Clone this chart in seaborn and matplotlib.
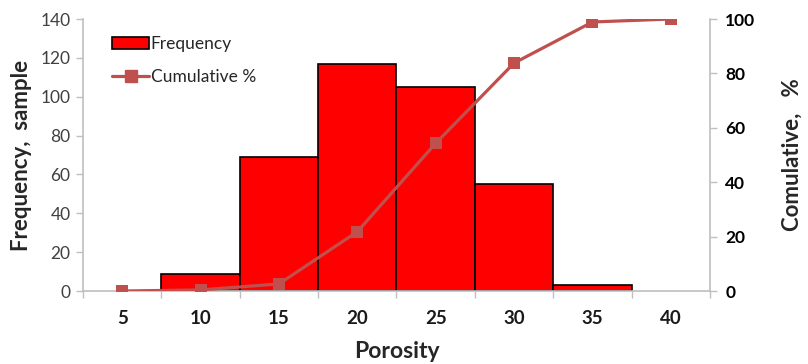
import matplotlib
matplotlib.use("Agg")
import matplotlib.pyplot as plt
from matplotlib.ticker import FixedLocator, NullFormatter
from matplotlib.patches import Patch
from matplotlib.lines import Line2D
import seaborn as sns

porosity = [5, 10, 15, 20, 25, 30, 35, 40]
cumulative = [0, 0.4, 2.6, 21.8, 54.3, 83.8, 98.9, 100]
bin_centers = [7.5, 12.5, 17.5, 22.5, 27.5, 32.5]
frequency = [9, 69, 117, 105, 55, 3]
bin_edges = [7.5, 12.5, 17.5, 22.5, 27.5, 32.5, 37.5]

sns.set_style("white")
plt.rcParams['font.family'] = ['Lato', 'DejaVu Sans']

fig = plt.figure(figsize=(8.08, 3.64), dpi=100)
ax = fig.add_axes([0.1027, 0.2005, 0.7760, 0.7473])

sns.histplot(x=bin_centers, weights=frequency, bins=bin_edges, ax=ax,
             color='#FF0000', edgecolor='black', linewidth=1.2, alpha=1.0)

ax2 = ax.twinx()
sns.lineplot(x=porosity, y=cumulative, ax=ax2, color='#C0504D', marker='s',
             markersize=9, markeredgewidth=0, linewidth=2.3, legend=False)

grey = '#BFBFBF'
ax.set_xlim(2.5, 42.5)
ax.set_ylim(0, 140)
ax2.set_ylim(0, 100)
ax.set_yticks(range(0, 141, 20))
ax2.set_yticks(range(0, 101, 20))
ax.set_xticks(porosity)
ax.xaxis.set_minor_locator(FixedLocator([2.5 + 5 * k for k in range(9)]))
ax.xaxis.set_minor_formatter(NullFormatter())

for a in (ax, ax2):
    for s in a.spines.values():
        s.set_visible(False)
ax.spines['left'].set_visible(True)
ax.spines['bottom'].set_visible(True)
ax2.spines['right'].set_visible(True)
for s in (ax.spines['left'], ax.spines['bottom'], ax2.spines['right']):
    s.set_color(grey)
    s.set_linewidth(1.2)

ax.tick_params(axis='y', which='major', direction='out', length=5, width=1, color=grey,
               labelsize=12.5, labelcolor='#404040', left=True, pad=4)
ax.tick_params(axis='x', which='major', length=0, labelsize=13.5, labelcolor='#1a1a1a', pad=14)
ax.tick_params(axis='x', which='minor', direction='out', length=5, width=1, color=grey, bottom=True)
ax2.tick_params(axis='y', direction='out', length=5, width=1, color=grey,
                labelsize=12.5, labelcolor='#000000', right=True, pad=6)
for lbl in ax2.get_yticklabels():
    lbl.set_fontweight('bold')
for lbl in ax.get_xticklabels():
    lbl.set_fontweight('bold')

ax.set_xlabel('Porosity', fontsize=16.5, fontweight='bold', labelpad=10)
ax.set_ylabel('Frequency,  sample', fontsize=16, fontweight='bold', labelpad=6)
ax2.set_ylabel('Comulative,   %', fontsize=16, fontweight='bold', labelpad=19)

handles = [Patch(facecolor='#FF0000', edgecolor='black', linewidth=1.2),
           Line2D([], [], color='#C0504D', marker='s', markersize=9, linewidth=2.3)]
ax2.legend(handles, ['Frequency', 'Cumulative %'], loc='upper left',
           bbox_to_anchor=(0.022, 0.995), frameon=False, fontsize=12.5,
           handlelength=2.1, handletextpad=0.1, labelspacing=1.0)

fig.savefig('out.png', dpi=100)
